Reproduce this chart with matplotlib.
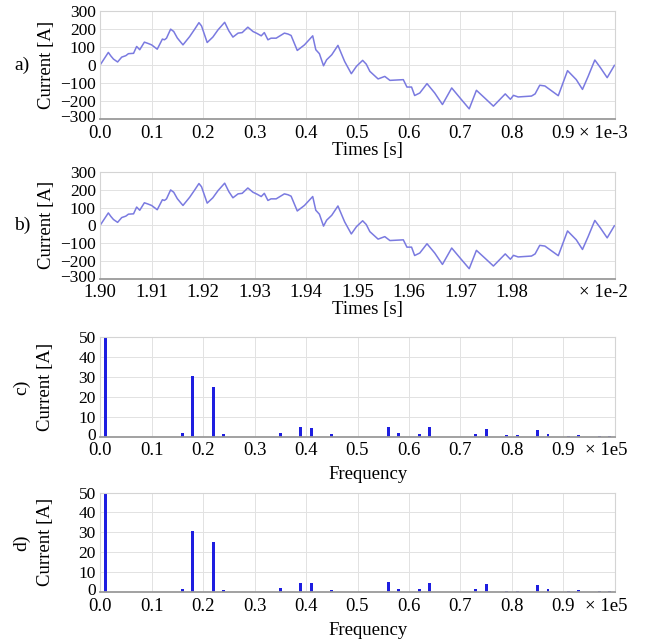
import matplotlib
matplotlib.use("Agg")
import matplotlib.pyplot as plt
import matplotlib.transforms as mtrans

plt.rcParams["font.family"] = ["Liberation Serif", "DejaVu Serif"]

# time-domain waveform (time in units of 1e-3 s for panel a)
time_ms = [0.000, 0.008, 0.016, 0.021, 0.026, 0.034, 0.042, 0.050, 0.055, 0.065,
           0.071, 0.077, 0.086, 0.093, 0.100, 0.111, 0.121, 0.125, 0.129, 0.137,
           0.143, 0.150, 0.158, 0.161, 0.174, 0.184, 0.192, 0.197, 0.208, 0.219,
           0.229, 0.242, 0.250, 0.258, 0.268, 0.276, 0.287, 0.297, 0.305, 0.313,
           0.319, 0.326, 0.332, 0.342, 0.358, 0.365, 0.371, 0.383, 0.397, 0.413,
           0.419, 0.426, 0.434, 0.440, 0.450, 0.462, 0.475, 0.488, 0.498, 0.510,
           0.517, 0.524, 0.540, 0.553, 0.563, 0.589, 0.596, 0.605, 0.611, 0.621,
           0.635, 0.650, 0.665, 0.683, 0.699, 0.717, 0.731, 0.748, 0.764, 0.787,
           0.797, 0.803, 0.812, 0.838, 0.845, 0.854, 0.864, 0.890, 0.908, 0.925,
           0.937, 0.948, 0.961, 0.972, 0.985, 0.999]
current = [0, 35, 70, 50, 33, 17, 44, 52, 63, 65,
           103, 85, 127, 120, 112, 88, 144, 140, 149, 199,
           186, 150, 122, 112, 158, 200, 235, 217, 125, 155,
           195, 237, 190, 155, 177, 180, 210, 186, 175, 162,
           180, 140, 149, 149, 177, 172, 164, 81, 112, 162,
           85, 63, -4, 29, 57, 109, 20, -48, -7, 26,
           5, -35, -77, -63, -85, -81, -122, -122, -169, -155,
           -103, -155, -219, -127, -182, -243, -140, -185, -228, -160,
           -190, -168, -177, -172, -160, -112, -116, -170, -31, -81,
           -135, -63, 28, -15, -70, -2]

time_ticks = [0.0, 0.1, 0.2, 0.3, 0.4, 0.5, 0.6, 0.7, 0.8, 0.9]
time_labels_a = ["0.0", "0.1", "0.2", "0.3", "0.4", "0.5", "0.6", "0.7", "0.8", "0.9"]
time_labels_b = ["1.90", "1.91", "1.92", "1.93", "1.94", "1.95", "1.96", "1.97", "1.98", ""]
current_ticks = [-300, -200, -100, 0, 100, 200, 300]

# spectrum (frequency in units of 1e5)
freq = [0.01, 0.16, 0.18, 0.22, 0.24, 0.35, 0.39, 0.41, 0.45, 0.56,
        0.58, 0.62, 0.64, 0.73, 0.75, 0.79, 0.81, 0.85, 0.87, 0.91,
        0.93, 0.97, 0.99]
amp = [50, 1.7, 30.5, 24.9, 1.2, 2.0, 4.7, 4.5, 1.2, 5.0,
       1.6, 1.4, 4.6, 1.4, 3.9, 0.7, 0.7, 3.3, 1.3, 0.5,
       0.8, 0.5, 0.5]
freq_ticks = time_ticks
freq_labels = time_labels_a
amp_ticks = [0, 10, 20, 30, 40, 50]

LINE = "#7a7ae0"
BAR = "#1e1ee0"


def style(ax):
    for s in ax.spines.values():
        s.set_color("#d4d4d4")
        s.set_linewidth(0.8)
    ax.spines["bottom"].set_color("#9a9a9a")
    ax.spines["bottom"].set_linewidth(1.3)
    ax.grid(True, color="#e2e2e2", linewidth=0.7)
    ax.set_axisbelow(True)
    ax.tick_params(axis="x", length=0, pad=4, labelsize=13.5)
    ax.tick_params(axis="y", length=0, pad=3, labelsize=12.5)
    # lift the lowest y label a little so it clears the first x label
    lowest = ax.yaxis.get_major_ticks()[0].label1
    lowest.set_transform(lowest.get_transform() +
                         mtrans.ScaledTranslation(0, 2 / 72, fig.dpi_scale_trans))


def offset_note(ax, text):
    ax.annotate(text, xy=(1.025, 0), xycoords="axes fraction",
                xytext=(0, -4), textcoords="offset points",
                ha="right", va="top", fontsize=13.5)


fig = plt.figure(figsize=(6.5, 6.44), dpi=100)
left, width = 0.154, 0.792

# a) and b) time waveforms
for bottom, h, labels, note, tag in [
        (0.815, 0.168, time_labels_a, "× 1e-3", "a)"),
        (0.567, 0.166, time_labels_b, "× 1e-2", "b)")]:
    ax = fig.add_axes([left, bottom, width, h])
    ax.plot(time_ms, current, color=LINE, linewidth=1.1)
    ax.set_xlim(0, 1.0)
    ax.set_ylim(-300, 300)
    ax.set_xticks(time_ticks)
    ax.set_xticklabels(labels)
    ax.set_yticks(current_ticks)
    style(ax)
    offset_note(ax, note)
    ax.set_xlabel("Times [s]", fontsize=13.5, labelpad=0)
    ax.xaxis.label.set_x(0.52)
    ax.set_ylabel("Current [A]", fontsize=13.5, labelpad=4)
    ax.text(-0.152, 0.5, tag, transform=ax.transAxes, fontsize=14,
            ha="center", va="center")

# c) and d) spectra
for bottom, tag in [(0.322, "c)"), (0.0807, "d)")]:
    ax = fig.add_axes([left, bottom, width, 0.1545])
    ax.bar(freq, amp, width=0.0055, color=BAR)
    ax.set_xlim(0, 1.0)
    ax.set_ylim(0, 50)
    ax.set_xticks(freq_ticks)
    ax.set_xticklabels(freq_labels)
    ax.set_yticks(amp_ticks)
    style(ax)
    offset_note(ax, "× 1e5")
    ax.set_xlabel("Frequency", fontsize=13.5, labelpad=5)
    ax.xaxis.label.set_x(0.52)
    ax.set_ylabel("Current [A]", fontsize=13.5, labelpad=18)
    ax.text(-0.152, 0.5, tag, transform=ax.transAxes, fontsize=14,
            rotation=90, ha="center", va="center")

fig.savefig("out.png", dpi=100)
